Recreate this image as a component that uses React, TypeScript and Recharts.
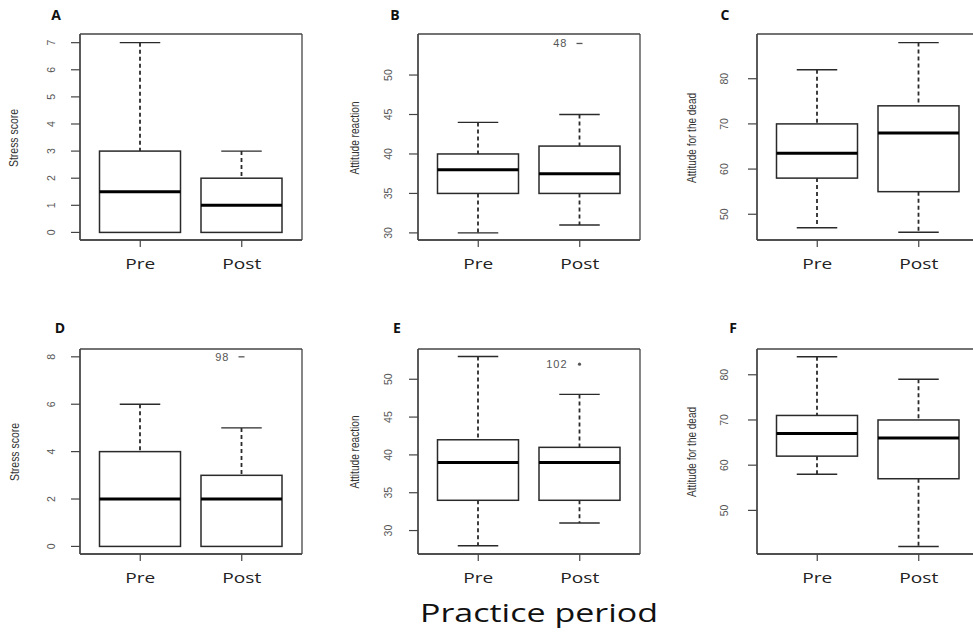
import React from 'react';
import { ComposedChart, Bar, XAxis, YAxis, CartesianGrid } from 'recharts';

// ---------- data ----------
const categories = ['Pre', 'Post'];

// five-number summaries: [min, q1, median, q3, max]
const stressPreA = [0, 0, 1.5, 3, 7];
const stressPostA = [0, 0, 1, 2, 3];
const reactionPreB = [30, 35, 38, 40, 44];
const reactionPostB = [31, 35, 37.5, 41, 45];
const deadPreC = [47, 58, 63.5, 70, 82];
const deadPostC = [46, 55, 68, 74, 88];
const stressPreD = [0, 0, 2, 4, 6];
const stressPostD = [0, 0, 2, 3, 5];
const reactionPreE = [28, 34, 39, 42, 53];
const reactionPostE = [31, 34, 39, 41, 48];
const deadPreF = [58, 62, 67, 71, 84];
const deadPostF = [42, 57, 66, 70, 79];

// outliers per category (value, observation id)
const outlierValuesB = [null, 54];
const outlierIdsB = ['', '48'];
const outlierValuesD = [null, 8];
const outlierIdsD = ['', '98'];
const outlierValuesE = [null, 52];
const outlierIdsE = ['', '102'];
const noOutliers = [null, null];
const noIds = ['', ''];

const ticksA = [0, 1, 2, 3, 4, 5, 6, 7];
const ticksB = [30, 35, 40, 45, 50];
const ticksC = [50, 60, 70, 80];
const ticksD = [0, 2, 4, 6, 8];
const ticksE = [30, 35, 40, 45, 50];
const ticksF = [50, 60, 70, 80];

const panelLetters = ['A', 'B', 'C', 'D', 'E', 'F'];
const yTitles = [
  'Stress score',
  'Attitude reaction',
  'Attitude for the dead',
  'Stress score',
  'Attitude reaction',
  'Attitude for the dead',
];
const xTitle = 'Practice period';

// ---------- helpers ----------
function buildRows(pre: number[], post: number[], outVals: (number | null)[], outIds: string[]) {
  return categories.map((name, i) => {
    const s = i === 0 ? pre : post;
    return {
      name,
      min: s[0],
      q1: s[1],
      med: s[2],
      q3: s[3],
      max: s[4],
      range: [s[0], s[4]],
      outlier: outVals[i],
      outlierId: outIds[i],
    };
  });
}

const FRAME = '#444';
const BOX = '#2a2a2a';
const PLOT_W = 222;
const Y_W = 80;
const TOP_M = 34;
const X_H = 40;

function BoxShape(props: any) {
  const { x, y, width, height, payload, marker } = props;
  if (x == null || y == null || !payload) return null;
  const top = Math.min(y, y + height);
  const h = Math.abs(height);
  const lo = payload.min;
  const hi = payload.max;
  const py = (v: number) => top + ((hi - v) / (hi - lo)) * h;
  const cx = x + width / 2;
  const capHalf = width / 4;
  const yMax = py(payload.max);
  const yQ3 = py(payload.q3);
  const yMed = py(payload.med);
  const yQ1 = py(payload.q1);
  const yMin = py(payload.min);
  return (
    <g>
      {payload.max > payload.q3 && (
        <line x1={cx} x2={cx} y1={yMax} y2={yQ3} stroke={BOX} strokeWidth={1.8} strokeDasharray="4 3" />
      )}
      {payload.q1 > payload.min && (
        <line x1={cx} x2={cx} y1={yQ1} y2={yMin} stroke={BOX} strokeWidth={1.8} strokeDasharray="4 3" />
      )}
      <line x1={cx - capHalf} x2={cx + capHalf} y1={yMax} y2={yMax} stroke={BOX} strokeWidth={1.4} />
      <line x1={cx - capHalf} x2={cx + capHalf} y1={yMin} y2={yMin} stroke={BOX} strokeWidth={1.4} />
      <rect x={x} y={yQ3} width={width} height={yQ1 - yQ3} fill="#fff" stroke={BOX} strokeWidth={1.5} />
      <line x1={x} x2={x + width} y1={yMed} y2={yMed} stroke="#000" strokeWidth={3} />
      {payload.outlier != null && (
        <g>
          {marker === 'dot' ? (
            <circle cx={cx} cy={py(payload.outlier)} r={1.6} fill="#555" />
          ) : (
            <line x1={cx - 3} x2={cx + 3} y1={py(payload.outlier)} y2={py(payload.outlier)} stroke="#555" strokeWidth={1.3} />
          )}
          <text
            x={cx - 12}
            y={py(payload.outlier)}
            textAnchor="end"
            dominantBaseline="central"
            fontSize={11}
            letterSpacing={1}
            fill="#555"
            fontFamily="Liberation Sans, Arial, sans-serif"
          >
            {payload.outlierId}
          </text>
        </g>
      )}
    </g>
  );
}

function renderYTick(props: any) {
  const { x, y, payload } = props;
  return (
    <g transform={`translate(${x},${y})`}>
      <text
        x={0}
        y={0}
        transform="rotate(-90)"
        textAnchor="middle"
        fontSize={10.5}
        fill="#555"
        fontFamily="Liberation Sans, Arial, sans-serif"
      >
        {payload.value}
      </text>
    </g>
  );
}

function renderXTick(props: any) {
  const { x, y, payload } = props;
  const len = payload.value === 'Pre' ? 30 : 39;
  return (
    <text
      x={x}
      y={y + 21.5}
      textAnchor="middle"
      fontSize={15}
      fill="#222"
      fontFamily="Open Sans, sans-serif"
      textLength={len}
      lengthAdjust="spacingAndGlyphs"
    >
      {payload.value}
    </text>
  );
}

type PanelCfg = {
  plotLeft: number;
  plotTop: number;
  plotH: number;
  domain: [number, number];
  ticks: number[];
  pre: number[];
  post: number[];
  outVals: (number | null)[];
  outIds: string[];
  marker: string;
  tickMargin: number;
};

const panels: PanelCfg[] = [
  { plotLeft: 80, plotTop: 34, plotH: 206, domain: [-0.28, 7.32], ticks: ticksA, pre: stressPreA, post: stressPostA, outVals: noOutliers, outIds: noIds, marker: 'dash', tickMargin: 16 },
  { plotLeft: 418, plotTop: 34, plotH: 206, domain: [29.1, 55.2], ticks: ticksB, pre: reactionPreB, post: reactionPostB, outVals: outlierValuesB, outIds: outlierIdsB, marker: 'dash', tickMargin: 17 },
  { plotLeft: 757, plotTop: 34, plotH: 206, domain: [44.3, 89.9], ticks: ticksC, pre: deadPreC, post: deadPostC, outVals: noOutliers, outIds: noIds, marker: 'dash', tickMargin: 20 },
  { plotLeft: 80, plotTop: 349, plotH: 205, domain: [-0.32, 8.33], ticks: ticksD, pre: stressPreD, post: stressPostD, outVals: outlierValuesD, outIds: outlierIdsD, marker: 'dash', tickMargin: 16 },
  { plotLeft: 418, plotTop: 349, plotH: 205, domain: [26.9, 54.0], ticks: ticksE, pre: reactionPreE, post: reactionPostE, outVals: outlierValuesE, outIds: outlierIdsE, marker: 'dot', tickMargin: 17 },
  { plotLeft: 757, plotTop: 349, plotH: 205, domain: [40.35, 85.7], ticks: ticksF, pre: deadPreF, post: deadPostF, outVals: noOutliers, outIds: noIds, marker: 'dash', tickMargin: 20 },
];

const letterPos = [
  [56, 20], [395, 20], [725, 20],
  [60, 333], [397, 333], [733, 333],
];
const yTitlePos = [
  [14, 138], [355, 138], [692, 138],
  [15, 452], [355, 452], [692, 452],
];

function Panel({ cfg }: { cfg: PanelCfg }) {
  const data = buildRows(cfg.pre, cfg.post, cfg.outVals, cfg.outIds);
  const axisLine = { stroke: FRAME, strokeWidth: 1.3 };
  const hGen = () => [TOP_M, TOP_M + cfg.plotH];
  const vGen = () => [Y_W, Y_W + PLOT_W];
  return (
    <div style={{ position: 'absolute', left: cfg.plotLeft - Y_W, top: cfg.plotTop - TOP_M }}>
      <ComposedChart
        width={Y_W + PLOT_W + 2}
        height={TOP_M + cfg.plotH + X_H}
        data={data}
        margin={{ top: TOP_M, right: 2, left: 0, bottom: 0 }}
      >
        <CartesianGrid
          stroke={FRAME}
          strokeWidth={1.3}
          fill="none"
          horizontalCoordinatesGenerator={hGen}
          verticalCoordinatesGenerator={vGen}
        />
        <XAxis
          dataKey="name"
          type="category"
          padding={{ left: 9.5, right: 9.5 }}
          height={X_H}
          tickSize={7}
          tickMargin={0}
          axisLine={axisLine}
          tickLine={{ stroke: FRAME, strokeWidth: 1.2 }}
          tick={renderXTick}
          interval={0}
        />
        <YAxis
          type="number"
          domain={cfg.domain}
          ticks={cfg.ticks}
          allowDataOverflow
          width={Y_W}
          tickSize={9}
          tickMargin={cfg.tickMargin}
          axisLine={axisLine}
          tickLine={{ stroke: FRAME, strokeWidth: 1.2 }}
          tick={renderYTick}
          interval={0}
        />
        <Bar
          dataKey="range"
          barSize={81}
          isAnimationActive={false}
          shape={(p: any) => <BoxShape {...p} marker={cfg.marker} />}
        />
      </ComposedChart>
    </div>
  );
}

export default function App() {
  return (
    <div
      style={{
        position: 'absolute',
        left: 0,
        top: 0,
        width: 973,
        height: 632,
        overflow: 'hidden',
        background: '#fff',
      }}
    >
      {panels.map((cfg, i) => (
        <Panel key={i} cfg={cfg} />
      ))}
      <svg
        width={973}
        height={632}
        style={{ position: 'absolute', left: 0, top: 0, pointerEvents: 'none' }}
      >
        {panelLetters.map((l, i) => (
          <text
            key={l}
            x={letterPos[i][0]}
            y={letterPos[i][1]}
            textAnchor="middle"
            fontSize={14}
            fontWeight="bold"
            fill="#111"
            fontFamily="Open Sans, sans-serif"
          >
            {l}
          </text>
        ))}
        {yTitles.map((t, i) => {
          const [x, y] = yTitlePos[i];
          return (
            <text
              key={i}
              x={x}
              y={y}
              transform={`rotate(-90 ${x} ${y})`}
              textAnchor="middle"
              dominantBaseline="central"
              fontSize={12}
              fill="#333"
              fontFamily="Liberation Sans, Arial, sans-serif"
              textLength={t === 'Stress score' ? 58 : t === 'Attitude reaction' ? 73 : 90}
              lengthAdjust="spacingAndGlyphs"
            >
              {t}
            </text>
          );
        })}
        <text
          x={539}
          y={622}
          textAnchor="middle"
          fontSize={25}
          fill="#111"
          fontFamily="Open Sans, sans-serif"
          textLength={238}
          lengthAdjust="spacingAndGlyphs"
        >
          {xTitle}
        </text>
      </svg>
    </div>
  );
}
